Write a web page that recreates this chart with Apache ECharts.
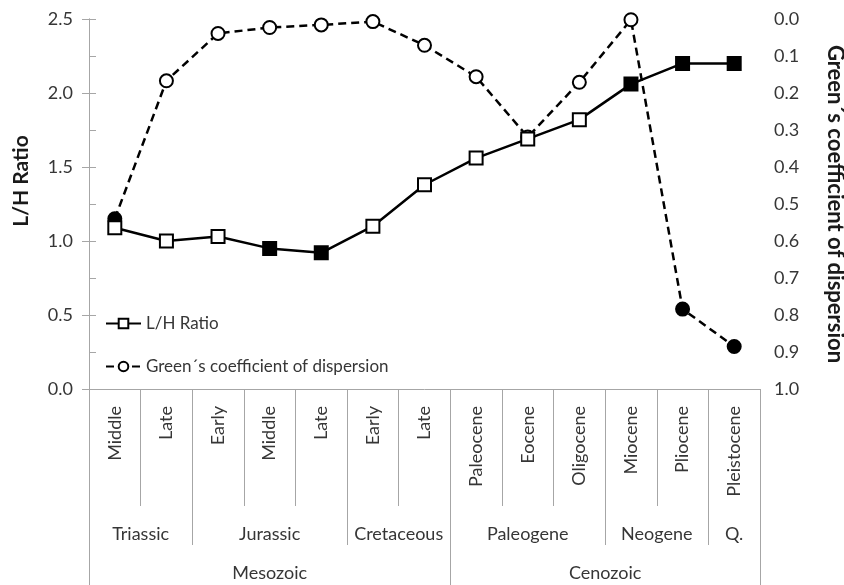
<!DOCTYPE html>
<html>
<head>
<meta charset="utf-8">
<script src="https://cdn.jsdelivr.net/npm/echarts@6/dist/echarts.min.js"></script>
<style>
  html, body { margin: 0; padding: 0; background: #fff; }
  #chart { width: 844px; height: 585px; }
</style>
</head>
<body>
<div id="chart"></div>
<script>
// Epochs / stages along the time axis
const stages = ['Middle', 'Late', 'Early', 'Middle', 'Late', 'Early', 'Late',
  'Paleocene', 'Eocene', 'Oligocene', 'Miocene', 'Pliocene', 'Pleistocene'];
// Periods and the number of stages each spans
const periods = ['Triassic', 'Jurassic', 'Cretaceous', 'Paleogene', 'Neogene', 'Q.'];
const periodSizes = [2, 3, 2, 3, 2, 1];
// Eras and the number of stages each spans
const eras = ['Mesozoic', 'Cenozoic'];
const eraSizes = [7, 6];

// L/H ratio per stage
const lhRatio = [1.09, 1.0, 1.03, 0.95, 0.92, 1.10, 1.38, 1.56, 1.69, 1.82, 2.06, 2.20, 2.20];
const lhSignificant = [false, false, false, true, true, false, false, false, false, false, true, true, true];
// Green's coefficient of dispersion per stage
const greens = [0.54, 0.167, 0.039, 0.023, 0.016, 0.007, 0.071, 0.156, 0.319, 0.171, 0.002, 0.784, 0.885];
const greensSignificant = [true, false, false, false, false, false, false, false, false, false, false, true, true];

// Axis tick labels
const leftTicks = ['0.0', '0.5', '1.0', '1.5', '2.0', '2.5'];
const rightTicks = ['0.0', '0.1', '0.2', '0.3', '0.4', '0.5', '0.6', '0.7', '0.8', '0.9', '1.0'];

const FONT = 'Lato';
const AXIS_GREY = '#a6a6a6';
const TEXT = '#363636';
const LABEL_SIZE = 18;

function spans(sizes) {
  const bounds = [0];
  const centers = [];
  sizes.forEach(s => {
    const start = bounds[bounds.length - 1];
    centers.push(start + s / 2);
    bounds.push(start + s);
  });
  return { bounds, centers };
}
const periodSpans = spans(periodSizes);
const eraSpans = spans(eraSizes);

function labelLookup(centers, names) {
  const m = {};
  centers.forEach((c, i) => { m[c.toFixed(2)] = names[i]; });
  return v => m[Number(v).toFixed(2)] || '';
}

function markerData(values, flags) {
  return values.map((v, i) => flags[i]
    ? { value: v, itemStyle: { color: '#000', borderColor: '#000' } }
    : v);
}

// Extra bottom axes that draw the period / era rows of the time table
const groupAxis = (bounds, centers, names, tickLen, margin) => ({
  type: 'value',
  position: 'bottom',
  min: 0,
  max: stages.length,
  axisLine: { show: false, onZero: false },
  splitLine: { show: false },
  axisTick: {
    show: true,
    inside: false,
    customValues: bounds,
    length: tickLen,
    lineStyle: { color: AXIS_GREY, width: 1 }
  },
  axisLabel: {
    customValues: centers,
    formatter: labelLookup(centers, names),
    margin: margin,
    fontFamily: FONT,
    fontSize: LABEL_SIZE,
    color: TEXT
  }
});

const chart = echarts.init(document.getElementById('chart'), null, { renderer: 'canvas' });

chart.setOption({
  animation: false,
  backgroundColor: '#fff',
  grid: {
    left: 89, right: 84, top: 19, bottom: 196,
    containLabel: false,
    outerBoundsMode: 'none'
  },
  legend: {
    orient: 'vertical',
    left: 100,
    top: 310,
    itemGap: 26,
    itemWidth: 35,
    itemHeight: 12,
    data: ['L/H Ratio', 'Green´s coefficient of dispersion'],
    textStyle: { fontFamily: FONT, fontSize: 17, color: TEXT }
  },
  xAxis: [
    {
      type: 'category',
      position: 'bottom',
      data: stages,
      boundaryGap: true,
      axisLine: { show: true, onZero: false, lineStyle: { color: AXIS_GREY, width: 1 } },
      axisTick: { show: true, interval: 0, length: 117, lineStyle: { color: AXIS_GREY, width: 1 } },
      axisLabel: {
        interval: 0,
        rotate: 90,
        margin: 17,
        fontFamily: FONT,
        fontSize: LABEL_SIZE,
        color: TEXT
      },
      splitLine: { show: false }
    },
    groupAxis(periodSpans.bounds, periodSpans.centers, periods, 156, 136),
    groupAxis(eraSpans.bounds, eraSpans.centers, eras, 200, 175)
  ],
  yAxis: [
    {
      type: 'value',
      position: 'left',
      min: 0,
      max: 2.5,
      interval: 0.5,
      name: 'L/H Ratio',
      nameLocation: 'middle',
      nameRotate: 90,
      nameGap: 57,
      nameTextStyle: {
        fontFamily: FONT, fontSize: 21, fontWeight: 'bold', color: '#1a1a1a',
        padding: [0, 0, 0, 46]
      },
      axisLine: { show: true, lineStyle: { color: AXIS_GREY, width: 1 } },
      axisTick: { show: true, length: 7, lineStyle: { color: AXIS_GREY } },
      axisLabel: {
        margin: 16,
        fontFamily: FONT,
        fontSize: LABEL_SIZE,
        color: TEXT,
        formatter: (v) => leftTicks[Math.round(v / 0.5)]
      },
      splitLine: { show: false }
    },
    {
      type: 'value',
      position: 'right',
      inverse: true,
      min: 0,
      max: 1,
      interval: 0.1,
      name: 'Green´s coefficient of dispersion',
      nameLocation: 'middle',
      nameRotate: -90,
      nameGap: 64,
      nameTextStyle: { fontFamily: FONT, fontSize: 22, fontWeight: 'bold', color: '#1a1a1a' },
      axisLine: { show: true, lineStyle: { color: AXIS_GREY, width: 1 } },
      axisTick: { show: true, length: 7, lineStyle: { color: AXIS_GREY } },
      axisLabel: {
        margin: 14,
        fontFamily: FONT,
        fontSize: LABEL_SIZE,
        color: TEXT,
        formatter: (v) => rightTicks[Math.round(v * 10)]
      },
      splitLine: { show: false }
    }
  ],
  series: [
    {
      name: 'Green´s coefficient of dispersion',
      type: 'line',
      xAxisIndex: 0,
      yAxisIndex: 1,
      data: markerData(greens, greensSignificant),
      symbol: 'circle',
      symbolSize: 13,
      showAllSymbol: true,
      lineStyle: { color: '#000', width: 2.5, type: [8, 5] },
      itemStyle: { color: '#fff', borderColor: '#000', borderWidth: 2 },
      z: 2
    },
    {
      name: 'L/H Ratio',
      type: 'line',
      xAxisIndex: 0,
      yAxisIndex: 0,
      data: markerData(lhRatio, lhSignificant),
      symbol: 'rect',
      symbolSize: 13,
      showAllSymbol: true,
      lineStyle: { color: '#000', width: 2.5 },
      itemStyle: { color: '#fff', borderColor: '#000', borderWidth: 2 },
      z: 3
    }
  ]
});
</script>
</body>
</html>
